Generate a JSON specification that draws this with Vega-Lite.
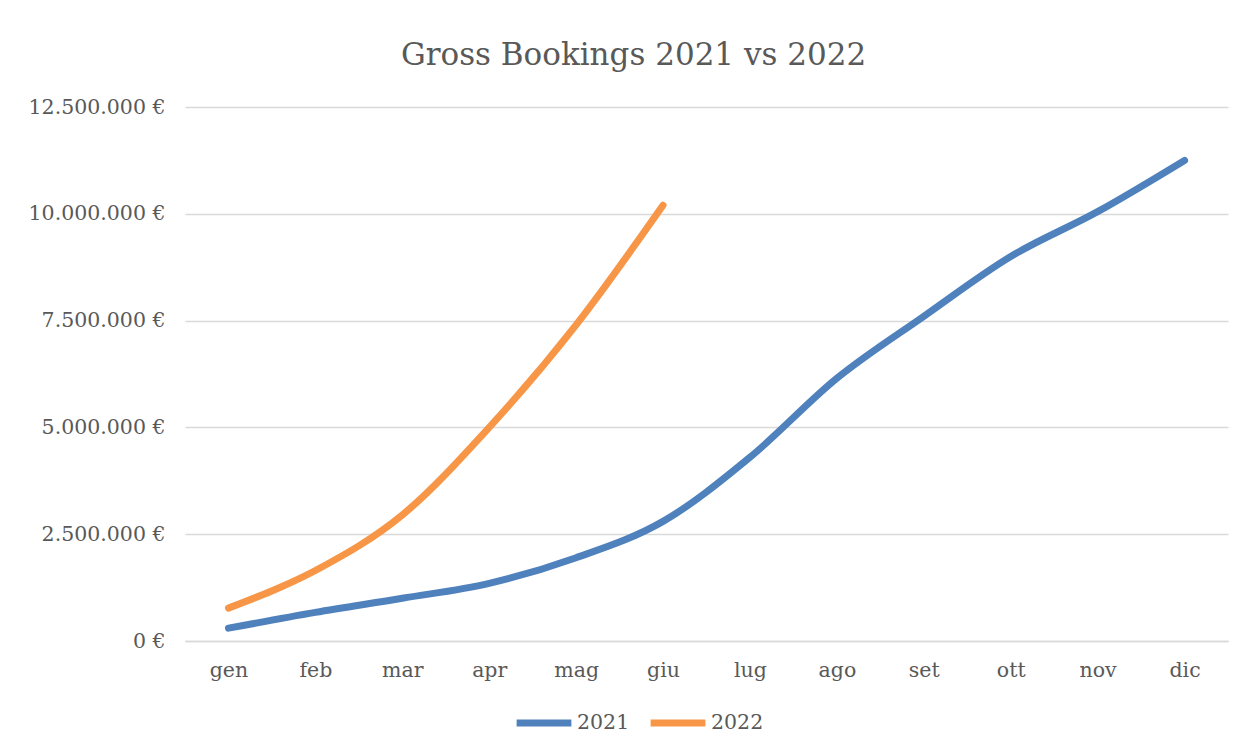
{
  "$schema": "https://vega.github.io/schema/vega-lite/v6.json",
  "autosize": "none",
  "width": 1043,
  "height": 534,
  "padding": {"left": 185, "top": 107, "right": 19, "bottom": 114},
  "background": "white",
  "config": {
    "locale": {"number": {"decimal": ",", "thousands": ".", "grouping": [3], "currency": ["", " €"]}},
    "font": "DejaVu Serif",
    "view": {"stroke": null}
  },
  "title": {
    "text": "Gross Bookings 2021 vs 2022",
    "font": "DejaVu Serif",
    "fontSize": 31,
    "fontWeight": "normal",
    "color": "#595959",
    "anchor": "middle",
    "dx": -73,
    "offset": 25
  },
  "data": {
    "values": [
      {"mese": "gen", "anno": "2021", "valore": 300000},
      {"mese": "feb", "anno": "2021", "valore": 670000},
      {"mese": "mar", "anno": "2021", "valore": 1000000},
      {"mese": "apr", "anno": "2021", "valore": 1350000},
      {"mese": "mag", "anno": "2021", "valore": 1950000},
      {"mese": "giu", "anno": "2021", "valore": 2800000},
      {"mese": "lug", "anno": "2021", "valore": 4300000},
      {"mese": "ago", "anno": "2021", "valore": 6150000},
      {"mese": "set", "anno": "2021", "valore": 7600000},
      {"mese": "ott", "anno": "2021", "valore": 9000000},
      {"mese": "nov", "anno": "2021", "valore": 10050000},
      {"mese": "dic", "anno": "2021", "valore": 11250000},
      {"mese": "gen", "anno": "2022", "valore": 770000},
      {"mese": "feb", "anno": "2022", "valore": 1650000},
      {"mese": "mar", "anno": "2022", "valore": 2950000},
      {"mese": "apr", "anno": "2022", "valore": 5000000},
      {"mese": "mag", "anno": "2022", "valore": 7400000},
      {"mese": "giu", "anno": "2022", "valore": 10200000}
    ]
  },
  "mark": {"type": "line", "interpolate": "monotone", "strokeWidth": 7, "strokeCap": "round", "strokeJoin": "round"},
  "encoding": {
    "x": {
      "field": "mese",
      "type": "ordinal",
      "sort": ["gen", "feb", "mar", "apr", "mag", "giu", "lug", "ago", "set", "ott", "nov", "dic"],
      "scale": {"type": "point", "padding": 0.5},
      "axis": {
        "title": null,
        "labelAngle": 0,
        "labelFont": "DejaVu Serif",
        "labelFontSize": 20.5,
        "labelColor": "#595959",
        "labelPadding": 19,
        "ticks": false,
        "domainColor": "#d9d9d9",
        "domainWidth": 1.3,
        "grid": false
      }
    },
    "y": {
      "field": "valore",
      "type": "quantitative",
      "scale": {"domain": [0, 12500000]},
      "axis": {
        "title": null,
        "values": [0, 2500000, 5000000, 7500000, 10000000, 12500000],
        "format": "$,.0f",
        "labelFont": "DejaVu Serif",
        "labelFontSize": 20.5,
        "labelColor": "#595959",
        "labelPadding": 20,
        "ticks": false,
        "domain": false,
        "gridColor": "#d9d9d9",
        "gridWidth": 1.3
      }
    },
    "color": {
      "field": "anno",
      "type": "nominal",
      "scale": {"domain": ["2021", "2022"], "range": ["#4f81bd", "#f79646"]},
      "legend": {
        "title": null,
        "orient": "none",
        "direction": "horizontal",
        "legendX": 328,
        "legendY": 585,
        "symbolType": "stroke",
        "symbolSize": 3000,
        "symbolStrokeWidth": 7,
        "labelFont": "DejaVu Serif",
        "labelFontSize": 20.5,
        "labelColor": "#595959",
        "labelOffset": 2,
        "columnPadding": 6
      }
    }
  }
}
